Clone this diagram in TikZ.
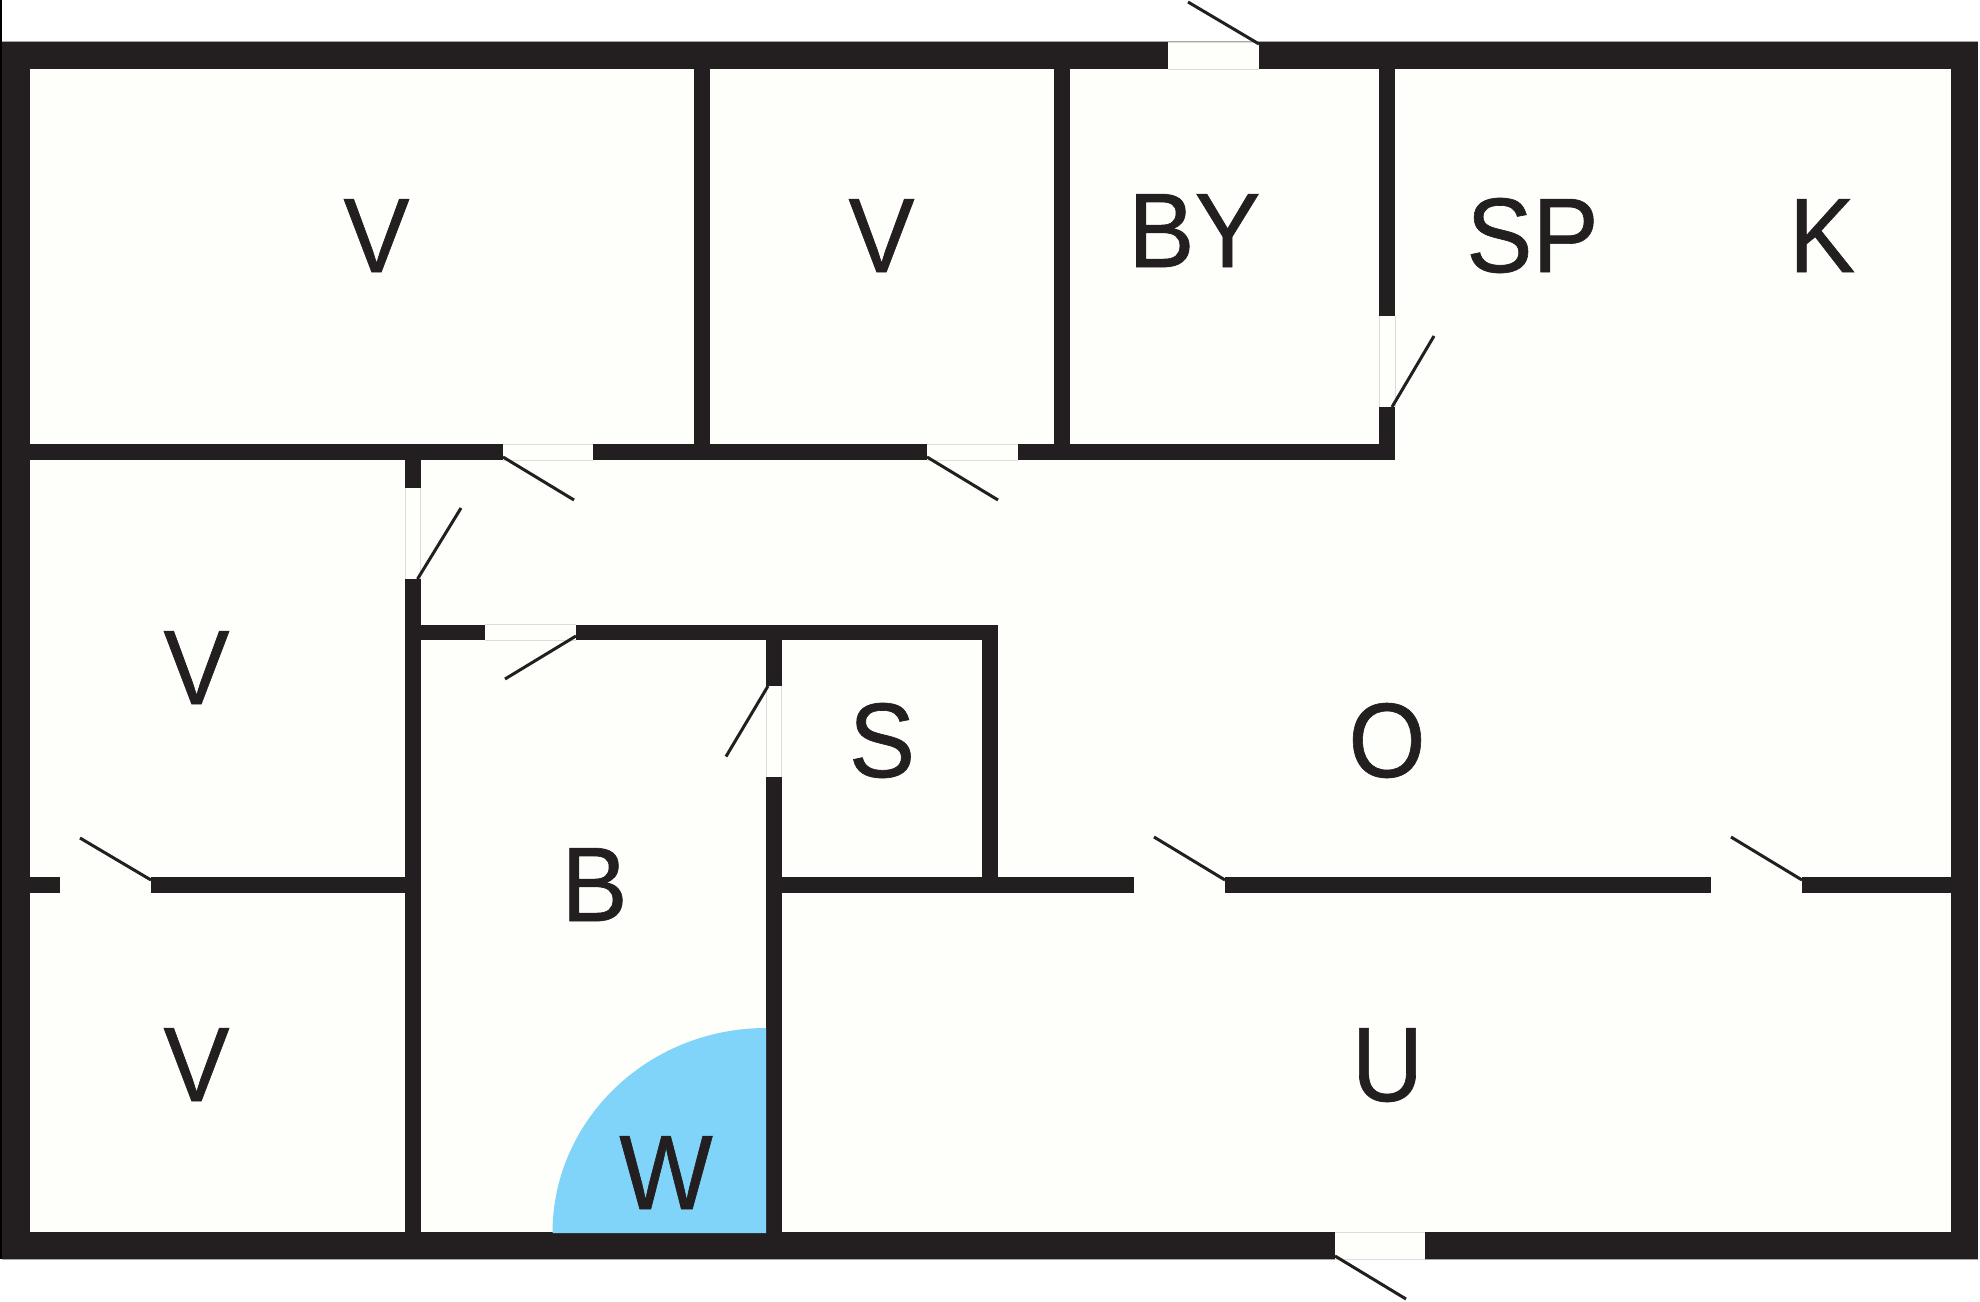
\documentclass[tikz,border=0pt]{standalone}
\usepackage{fontspec}
\setmainfont[FakeStretch=0.935,FakeBold=0.6]{Liberation Sans}
\definecolor{wallc}{HTML}{231F20}
\definecolor{roomc}{HTML}{FEFEFA}
\definecolor{waterc}{HTML}{80D4F9}
\definecolor{edgec}{HTML}{DCDCDA}
\definecolor{rimc}{HTML}{A8A8A8}
\tikzset{
  wall/.style={fill=wallc,draw=none},
  opening/.style={fill=roomc,draw=none},
  openedge/.style={draw=edgec,line width=0.8pt},
  leaf/.style={draw=wallc,line width=3pt},
  roomlabel/.style={inner sep=0pt,anchor=base,text=wallc,font=\fontsize{106}{106}\selectfont},
}
\begin{document}
\begin{tikzpicture}[x=1pt,y=-1pt]
\useasboundingbox (0,0) rectangle (1980,1301);
\fill[white] (0,0) rectangle (1980,1301);
% outer walls
\fill[wall] (2,42) rectangle (1978,1259);
\fill[black] (0,0) rectangle (2,1259);
\fill[roomc] (30,69) rectangle (1950.5,1232);
\draw[rimc,line width=0.8pt] (2,41.6) -- (1978,41.6) (2,1259.4) -- (1978,1259.4);
% inner walls
\fill[wall] (30,444) rectangle (1395,460);
\fill[wall] (1379,69) rectangle (1395,460);
\fill[wall] (694,69) rectangle (710,444);
\fill[wall] (1054,69) rectangle (1070,444);
\fill[wall] (405,460) rectangle (420.5,1232);
\fill[wall] (420,624.5) rectangle (998,640);
\fill[wall] (766,640) rectangle (781.5,1232);
\fill[wall] (982,640) rectangle (998,877);
\fill[wall] (30,877) rectangle (405,893);
\fill[wall] (781,877) rectangle (1951,893);
% water
\fill[waterc] (552.5,1233) arc[start angle=180,end angle=270,x radius=213.5,y radius=205] -- (766,1233) -- cycle;
% openings
\fill[opening] (1168,42) rectangle (1259,69);
\draw[openedge] (1168,42) -- (1259,42) (1168,69) -- (1259,69);
\fill[opening] (1379,316) rectangle (1395,407);
\draw[openedge] (1379,316) -- (1379,407) (1395,316) -- (1395,407);
\fill[opening] (503,444) rectangle (593,460);
\draw[openedge] (503,444) -- (593,444) (503,460) -- (593,460);
\fill[opening] (927,444) rectangle (1018,460);
\draw[openedge] (927,444) -- (1018,444) (927,460) -- (1018,460);
\fill[opening] (405,488) rectangle (420.5,579);
\draw[openedge] (405,488) -- (405,579) (420.5,488) -- (420.5,579);
\fill[opening] (485,624.5) rectangle (576,640);
\draw[openedge] (485,624.5) -- (576,624.5) (485,640) -- (576,640);
\fill[opening] (766,686) rectangle (781.5,777);
\draw[openedge] (766,686) -- (766,777) (781.5,686) -- (781.5,777);
\fill[opening] (60,877) rectangle (151,893);
\fill[opening] (1134,877) rectangle (1225,893);
\fill[opening] (1711,877) rectangle (1802,893);
\fill[opening] (1335,1232) rectangle (1425,1259.8);
\draw[openedge] (1335,1232) -- (1425,1232) (1335,1259) -- (1425,1259);
% door leaves
\coordinate (h1) at (1259,44); \coordinate (e1) at (1188,2);
\coordinate (h2) at (1392,407); \coordinate (e2) at (1434,336);
\coordinate (h3) at (503,457); \coordinate (e3) at (574,500);
\coordinate (h4) at (927,457); \coordinate (e4) at (998,500);
\coordinate (h5) at (417.5,579); \coordinate (e5) at (461,508);
\coordinate (h6) at (576,636); \coordinate (e6) at (505,679);
\coordinate (h7) at (768,686); \coordinate (e7) at (726,756.5);
\coordinate (h8) at (151,880); \coordinate (e8) at (80,838);
\coordinate (h9) at (1225,880); \coordinate (e9) at (1154,837);
\coordinate (h10) at (1802,880); \coordinate (e10) at (1731,837);
\coordinate (h11) at (1335,1256); \coordinate (e11) at (1406,1299);
\foreach \i in {1,...,11} {\draw[leaf] (h\i) -- (e\i);}
% labels
\node[roomlabel] (v1) at (376.5,272) {V};
\node[roomlabel] (v2) at (881.5,272) {V};
\node[roomlabel] (by) at (1194.5,267) {BY};
\node[roomlabel] (sp) at (1532.5,272) {SP};
\node[roomlabel] (k) at (1822,272) {K};
\node[roomlabel] (v3) at (196.5,704) {V};
\node[roomlabel] (v4) at (196.5,1101) {V};
\node[roomlabel] (b) at (594.5,921) {B};
\node[roomlabel] (s) at (882,777) {S};
\node[roomlabel] (o) at (1387,777) {O};
\node[roomlabel] (u) at (1387.5,1101) {U};
\node[roomlabel] (w) at (666,1209) {W};
\end{tikzpicture}
\end{document}
